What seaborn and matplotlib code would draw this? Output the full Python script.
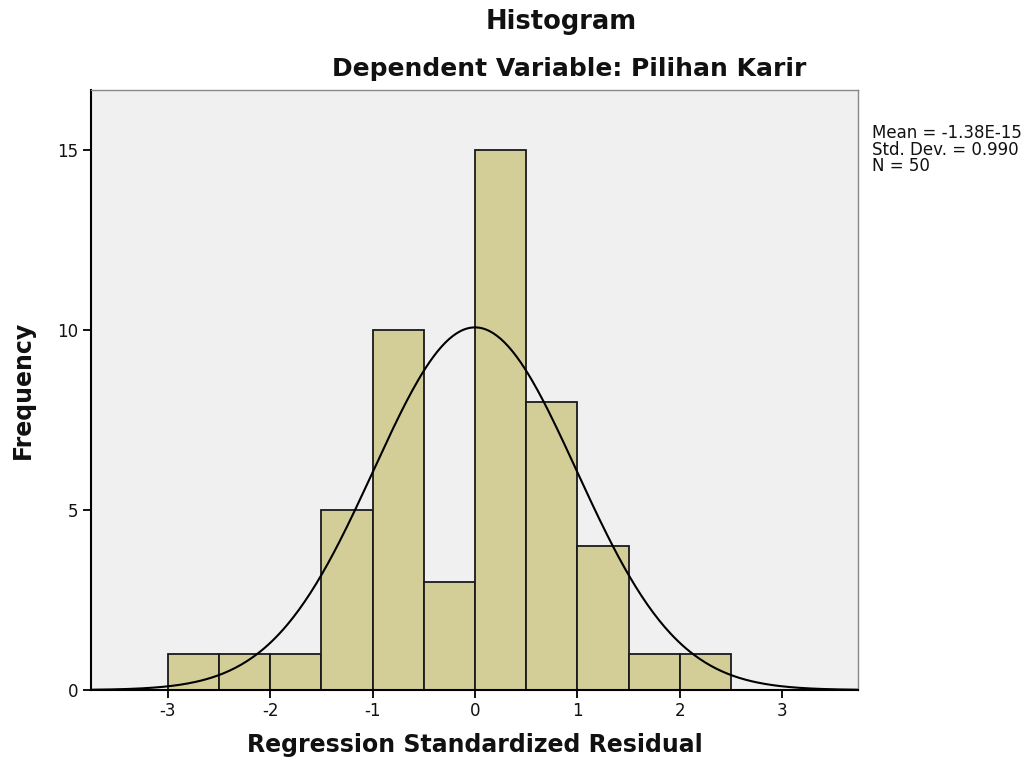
import numpy as np
import pandas as pd
import matplotlib
matplotlib.use("Agg")
import matplotlib.pyplot as plt
import seaborn as sns

sns.set_style("white")
plt.rcParams['font.family'] = ['DejaVu Sans']
plt.rcParams['axes.unicode_minus'] = False
plt.rcParams['xtick.bottom'] = True
plt.rcParams['ytick.left'] = True

# histogram data (bin width 0.5)
bin_edges = [-3.0, -2.5, -2.0, -1.5, -1.0, -0.5, 0.0, 0.5, 1.0, 1.5, 2.0, 2.5]
counts = [1, 1, 1, 5, 10, 3, 15, 8, 4, 1, 1]
mean = -1.38e-15
std_dev = 0.990
n_obs = 50

centers = [(a + b) / 2 for a, b in zip(bin_edges[:-1], bin_edges[1:])]
df = pd.DataFrame({"residual": centers, "count": counts})

fig = plt.figure(figsize=(10.35, 7.62), dpi=100)
ax = fig.add_axes([91 / 1035, 72 / 762, 767 / 1035, 600 / 762])
ax.set_facecolor("#F0F0F0")

sns.histplot(data=df, x="residual", weights="count", bins=bin_edges,
             color="#D3CE97", edgecolor="#1a1a1a", linewidth=1.3, alpha=1, ax=ax)

# normal curve scaled to counts
xs = np.linspace(-3.75, 3.75, 400)
ys = n_obs * 0.5 * np.exp(-0.5 * ((xs - mean) / std_dev) ** 2) / (std_dev * np.sqrt(2 * np.pi))
sns.lineplot(x=xs, y=ys, color="black", linewidth=1.5, ax=ax)

ax.set_xlim(-3.75, 3.74)
ax.set_ylim(0, 16.67)
ax.set_xticks([-3, -2, -1, 0, 1, 2, 3])
ax.set_yticks([0, 5, 10, 15])
ax.tick_params(axis="both", direction="out", length=6, width=1.3, labelsize=12,
               color="black", labelcolor="#111111", pad=3)

for s in ["left", "bottom"]:
    ax.spines[s].set_color("black")
    ax.spines[s].set_linewidth(1.5)
for s in ["top", "right"]:
    ax.spines[s].set_color("#888888")
    ax.spines[s].set_linewidth(1.0)

ax.set_xlabel("Regression Standardized Residual", fontsize=17, fontweight="bold", labelpad=9,
              color="#111111")
ax.set_ylabel("Frequency", fontsize=17, fontweight="bold", labelpad=16, color="#111111")

fig.text(561 / 1035, 1 - 22 / 762, "Histogram", fontsize=18.5, fontweight="bold", ha="center",
         va="center", color="#111111")
fig.text(569 / 1035, 1 - 69 / 762, "Dependent Variable: Pilihan Karir", fontsize=18, fontweight="bold",
         ha="center", va="center", color="#111111")

fig.text(872 / 1035, 1 - 124 / 762,
         "Mean = -1.38E-15\nStd. Dev. = 0.990\nN = 50",
         fontsize=12, ha="left", va="top", linespacing=0.9, color="#111111")

fig.savefig("out.png", dpi=100, facecolor="white")
